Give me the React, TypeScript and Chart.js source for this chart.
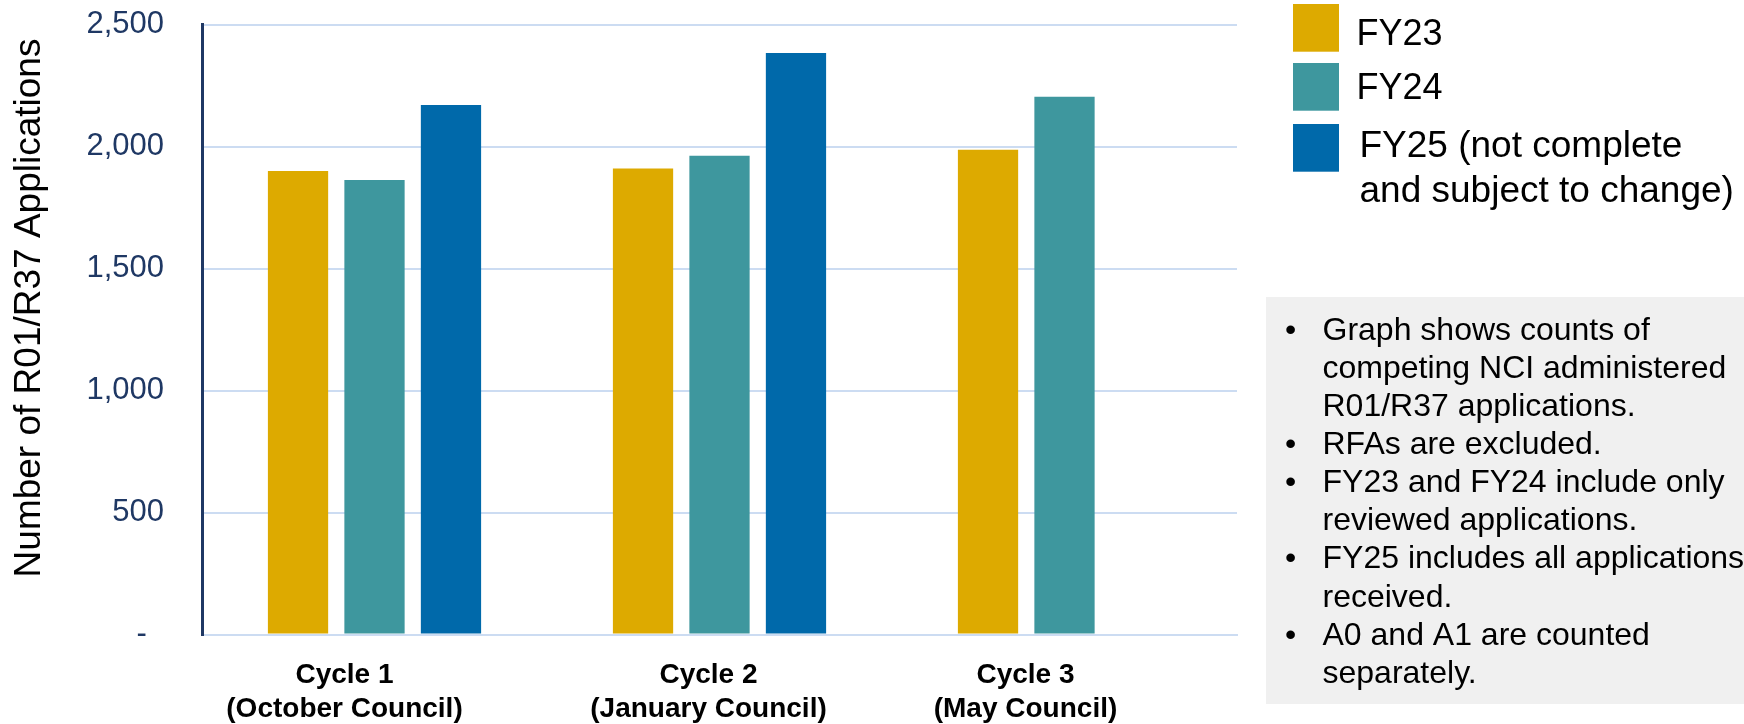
import React, { useEffect, useRef } from 'react';
import { Chart, registerables } from 'chart.js';

Chart.register(...registerables);

// ---------- data ----------
const categories = ['Cycle 1', 'Cycle 2', 'Cycle 3'];
const categorySubLabels = ['(October Council)', '(January Council)', '(May Council)'];
const seriesNames = ['FY23', 'FY24', 'FY25 (not complete and subject to change)'];
const fy23 = [1900, 1910, 1987];
const fy24 = [1863, 1962, 2204];
const fy25: (number | null)[] = [2170, 2384, null];
const yTicks = [0, 500, 1000, 1500, 2000, 2500];
const yAxisTitle = 'Number of R01/R37 Applications';
const legendLines = [['FY23'], ['FY24'], ['FY25 (not complete', 'and subject to change)']];
const noteLines: { bullet: boolean; text: string }[] = [
  { bullet: true, text: 'Graph shows counts of' },
  { bullet: false, text: 'competing NCI administered' },
  { bullet: false, text: 'R01/R37 applications.' },
  { bullet: true, text: 'RFAs are excluded.' },
  { bullet: true, text: 'FY23 and FY24 include only' },
  { bullet: false, text: 'reviewed applications.' },
  { bullet: true, text: 'FY25 includes all applications' },
  { bullet: false, text: 'received.' },
  { bullet: true, text: 'A0 and A1 are counted' },
  { bullet: false, text: 'separately.' },
];

// ---------- styles ----------
const FONT = '"Liberation Sans", Arial, Helvetica, sans-serif';
const COLORS = ['#DDAA00', '#3E979E', '#0069AA'];
const NAVY = '#1F3864';
const GRID = '#CCDCF2';
const xLabelShift = [-30, -11, -39];

const yTitlePlugin = {
  id: 'yTitle',
  afterDraw(chart: any) {
    const ctx = chart.ctx;
    ctx.save();
    ctx.translate(40, 308);
    ctx.rotate(-Math.PI / 2);
    ctx.font = `37px ${FONT}`;
    ctx.fillStyle = '#000';
    ctx.textAlign = 'center';
    ctx.textBaseline = 'alphabetic';
    ctx.fillText(yAxisTitle, 0, 0);
    ctx.restore();
  },
};

const xLabelsPlugin = {
  id: 'xLabels',
  afterDraw(chart: any) {
    const ctx = chart.ctx;
    const xs = chart.scales.x;
    const bottom = chart.chartArea.bottom;
    ctx.save();
    ctx.font = `bold 28px ${FONT}`;
    ctx.fillStyle = '#000';
    ctx.textAlign = 'center';
    ctx.textBaseline = 'alphabetic';
    categories.forEach((c, i) => {
      const x = xs.getPixelForValue(i) + xLabelShift[i];
      ctx.fillText(c, x, bottom + 48.5);
      ctx.fillText(categorySubLabels[i], x, bottom + 82.5);
    });
    ctx.restore();
  },
};

const legendPlugin = {
  id: 'customLegend',
  afterDraw(chart: any) {
    const ctx = chart.ctx;
    const squareTops = [4, 63, 124];
    const size = 47;
    ctx.save();
    ctx.textBaseline = 'alphabetic';
    ctx.textAlign = 'left';
    chart.data.datasets.forEach((ds: any, i: number) => {
      ctx.fillStyle = ds.backgroundColor;
      ctx.fillRect(1293, squareTops[i], size - 1, size + 0.7);
      ctx.fillStyle = '#000';
      const lines = legendLines[i];
      if (i < 2) {
        ctx.font = `36px ${FONT}`;
        ctx.fillText(lines[0], 1356.5, i === 0 ? 44.5 : 98.5);
      } else {
        ctx.font = `37px ${FONT}`;
        lines.forEach((l, j) => ctx.fillText(l, 1359.5, 157 + j * 45));
      }
    });
    ctx.restore();
  },
};

const notesPlugin = {
  id: 'notes',
  afterDraw(chart: any) {
    const ctx = chart.ctx;
    ctx.save();
    ctx.fillStyle = '#F0F0F0';
    ctx.fillRect(1266, 297, 1744 - 1266, 407);
    ctx.fillStyle = '#000';
    ctx.font = `32px ${FONT}`;
    ctx.textAlign = 'left';
    ctx.textBaseline = 'alphabetic';
    noteLines.forEach((ln, i) => {
      const y = 339.5 + i * 38.15;
      if (ln.bullet) ctx.fillText('\u2022', 1285, y);
      ctx.fillText(ln.text, 1322.5, y);
    });
    ctx.restore();
  },
};

export default function App() {
  const canvasRef = useRef<HTMLCanvasElement | null>(null);

  useEffect(() => {
    if (!canvasRef.current) return;
    const chart = new Chart(canvasRef.current, {
      type: 'bar',
      data: {
        labels: categories,
        datasets: [
          { label: seriesNames[0], data: fy23, backgroundColor: COLORS[0] },
          { label: seriesNames[1], data: fy24, backgroundColor: COLORS[1] },
          { label: seriesNames[2], data: fy25, backgroundColor: COLORS[2] },
        ],
      },
      options: {
        animation: false,
        responsive: true,
        maintainAspectRatio: false,
        devicePixelRatio: 1,
        layout: { padding: { left: 0, top: 24.6, right: 507, bottom: 0 } },
        datasets: {
          bar: { categoryPercentage: 0.665, barPercentage: 0.788 },
        },
        plugins: {
          legend: { display: false },
          tooltip: { enabled: false },
          title: { display: false },
        },
        scales: {
          x: {
            grid: { display: false },
            border: { display: true, color: GRID, width: 2 },
            ticks: { display: false },
            afterFit: (scale: any) => {
              scale.height = 89.4;
              scale.paddingLeft = 0;
              scale.paddingRight = 0;
            },
          },
          y: {
            min: 0,
            max: 2500,
            afterBuildTicks: (scale: any) => {
              scale.ticks = yTicks.map((v) => ({ value: v }));
            },
            afterFit: (scale: any) => {
              scale.width = 202;
              scale.paddingTop = 0;
              scale.paddingBottom = 0;
            },
            grid: { color: GRID, lineWidth: 2, drawTicks: false },
            border: { display: true, color: NAVY, width: 3 },
            ticks: {
              padding: 38,
              color: NAVY,
              font: { family: FONT, size: 31 },
              callback: (v: any) => (Number(v) === 0 ? '-  ' : Number(v).toLocaleString('en-US')),
            },
          },
        },
      },
      plugins: [yTitlePlugin, xLabelsPlugin, legendPlugin, notesPlugin],
    });
    return () => chart.destroy();
  }, []);

  return (
    <div style={{ position: 'absolute', left: 0, top: 0, width: 1744, height: 724, background: '#fff' }}>
      <canvas ref={canvasRef} />
    </div>
  );
}
